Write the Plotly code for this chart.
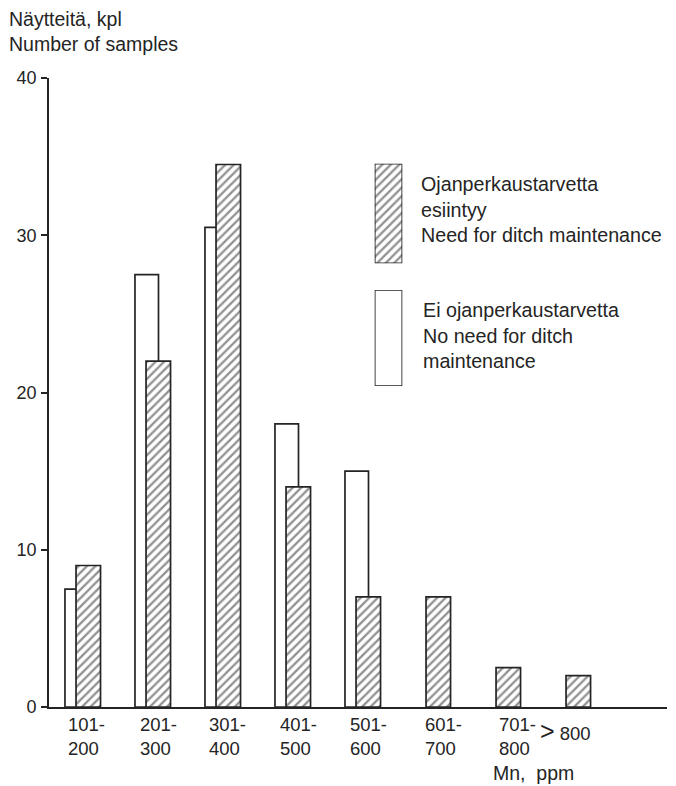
import plotly.graph_objects as go

# Mn content classes (ppm) and sample counts per class
classes = ["101-<br>200", "201-<br>300", "301-<br>400", "401-<br>500",
           "501-<br>600", "601-<br>700", "701-<br>800",
           "<span style='font-size:25px'>&gt;</span> 800"]
no_need_counts = [7.5, 27.5, 30.5, 18, 15, None, None, None]
need_counts = [9, 22, 34.5, 14, 7, 7, 2.5, 2]

y_ticks = [0, 10, 20, 30, 40]

INK = "#242424"
FONT = "Liberation Sans, Arial, Helvetica, sans-serif"

W, H = 676, 786
ML, MR, MT, MB = 49, 9, 78, 79
PW, PH = W - ML - MR, H - MT - MB


def px_x(p):
    return (p - ML) / PW


def px_y(p):
    return (H - MB - p) / PH


pos = list(range(len(classes)))

fig = go.Figure()

# open bars: no need for ditch maintenance (drawn behind)
fig.add_bar(
    x=pos, y=no_need_counts, width=0.336, offset=-0.254,
    marker=dict(color="white", line=dict(color=INK, width=1.7)),
    showlegend=False,
)
# hatched bars: need for ditch maintenance
hatch = dict(shape="/", fgcolor=INK, bgcolor="white", size=6, solidity=0.38)
fig.add_bar(
    x=pos, y=need_counts, width=0.35, offset=-0.096,
    marker=dict(color="white", pattern=hatch, line=dict(color=INK, width=1.7)),
    showlegend=False,
)

# key swatches on their own tiny axes
fig.add_bar(x=[0], y=[1], width=1, base=0, xaxis="x2", yaxis="y2",
            marker=dict(color="white", pattern=hatch, line=dict(color=INK, width=1.7)),
            showlegend=False)
fig.add_bar(x=[0], y=[1], width=1, base=0, xaxis="x3", yaxis="y3",
            marker=dict(color="white", line=dict(color=INK, width=1.7)),
            showlegend=False)


def key_dom(x0, x1, y0, y1):
    # pad so the full bar outline sits inside the domain
    w, h = (x1 - x0), (y1 - y0)
    xd = [px_x(x0 - 0.1 * w), px_x(x1 + 0.1 * w)]
    yd = [px_y(y1 + 0.1 * h), px_y(y0 - 0.1 * h)]
    return xd, yd


kx2, ky2 = key_dom(377, 400, 172, 255)
kx3, ky3 = key_dom(377, 400, 298, 378)
hidden = dict(visible=False, showgrid=False, zeroline=False, fixedrange=True)

annotations = []
# class labels under the bars
label_nudge = [-17, -15, -16, -15, -15, -10, -6, -35]
for i, lab in enumerate(classes):
    single = "<br>" not in lab
    annotations.append(dict(
        x=i, xref="x", xshift=label_nudge[i], xanchor="left",
        y=px_y(731 if single else 736.5), yref="paper", yanchor="middle",
        text=lab, showarrow=False, align="left",
        font=dict(family=FONT, size=18.5, color=INK),
    ))
annotations += [
    dict(x=px_x(491), y=px_y(773), xref="paper", yref="paper",
         xanchor="left", yanchor="middle", text="Mn,  ppm", showarrow=False,
         font=dict(family=FONT, size=19.5, color=INK)),
    dict(x=px_x(7), y=px_y(31.5), xref="paper", yref="paper",
         xanchor="left", yanchor="middle", align="left",
         text="Näytteitä, kpl<br>Number of samples", showarrow=False,
         font=dict(family=FONT, size=19.5, color=INK)),
    dict(x=px_x(419), y=px_y(209), xref="paper", yref="paper",
         xanchor="left", yanchor="middle", align="left",
         text="Ojanperkaustarvetta<br>esiintyy<br>Need for ditch maintenance",
         showarrow=False, font=dict(family=FONT, size=19.7, color=INK)),
    dict(x=px_x(421), y=px_y(335), xref="paper", yref="paper",
         xanchor="left", yanchor="middle", align="left",
         text="Ei ojanperkaustarvetta<br>No need for ditch<br>maintenance",
         showarrow=False, font=dict(family=FONT, size=19.7, color=INK)),
]

fig.update_layout(
    width=W, height=H,
    margin=dict(l=ML, r=MR, t=MT, b=MB, pad=0),
    paper_bgcolor="white", plot_bgcolor="white",
    barmode="overlay",
    font=dict(family=FONT, size=18, color=INK),
    xaxis=dict(range=[-0.482, 8.346], showline=True, linecolor=INK, linewidth=1.7,
               showticklabels=False, ticks="", showgrid=False, zeroline=False,
               fixedrange=True),
    yaxis=dict(range=[0, 40], tickvals=y_ticks, ticks="outside", ticklen=6,
               tickwidth=1.6, tickcolor=INK, showline=True, linecolor=INK,
               linewidth=1.7, showgrid=False, zeroline=False, fixedrange=True,
               ticklabelstandoff=1, tickfont=dict(family=FONT, size=18, color=INK)),
    xaxis2=dict(domain=kx2, anchor="y2", range=[-0.5, 0.5], **hidden),
    yaxis2=dict(domain=ky2, anchor="x2", range=[0, 1], **hidden),
    xaxis3=dict(domain=kx3, anchor="y3", range=[-0.5, 0.5], **hidden),
    yaxis3=dict(domain=ky3, anchor="x3", range=[0, 1], **hidden),
    annotations=annotations,
)

fig.write_html("out.html")
